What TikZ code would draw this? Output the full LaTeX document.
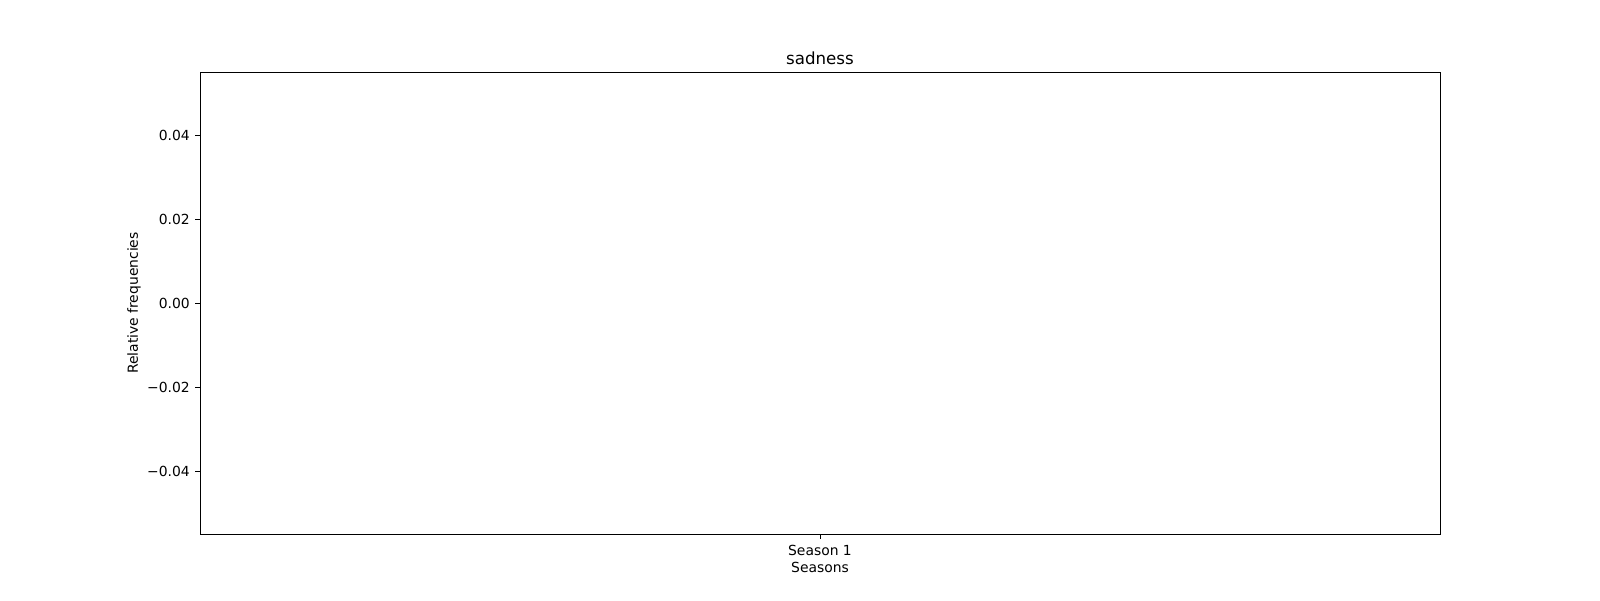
\documentclass[tikz,border=0pt]{standalone}
\usepackage{fontspec}
\setmainfont{DejaVu Sans}
\usetikzlibrary{positioning}

\begin{document}
\begin{tikzpicture}[x=0.72pt,y=-0.72pt,
        axis line/.style={draw,line width=0.7pt},
        tick/.style={line width=0.7pt},
        tick label/.style={font=\fontsize{10}{12}\selectfont,inner sep=0pt},
        title label/.style={font=\fontsize{12}{14}\selectfont,inner sep=0pt}]

    \useasboundingbox (0,0) rectangle (1600,600);

    % frame of the axes
    \coordinate (sw) at (200,534);
    \coordinate (ne) at (1440,72);
    \draw[axis line] (sw) rectangle (ne);

    % y ticks
    \foreach \val/\y in {0.04/135,0.02/219,0.00/303,−0.02/387,−0.04/471}{
        \draw[tick] (200,\y) -- ++(-4.86,0) node[tick label,left=3.5pt] {\val};
    }

    % x tick
    \draw[tick] (820,534) -- ++(0,4.86) coordinate (xt);
    \node[tick label,below=4.3pt of xt] (s1) {Season 1};
    \node[tick label,below=4.6pt of s1] (xlab) {Seasons};

    \node[tick label,rotate=90] (ylab) at (134,303) {Relative frequencies};
    \node[title label,anchor=base] (title) at (820,64) {sadness};

\end{tikzpicture}
\end{document}
